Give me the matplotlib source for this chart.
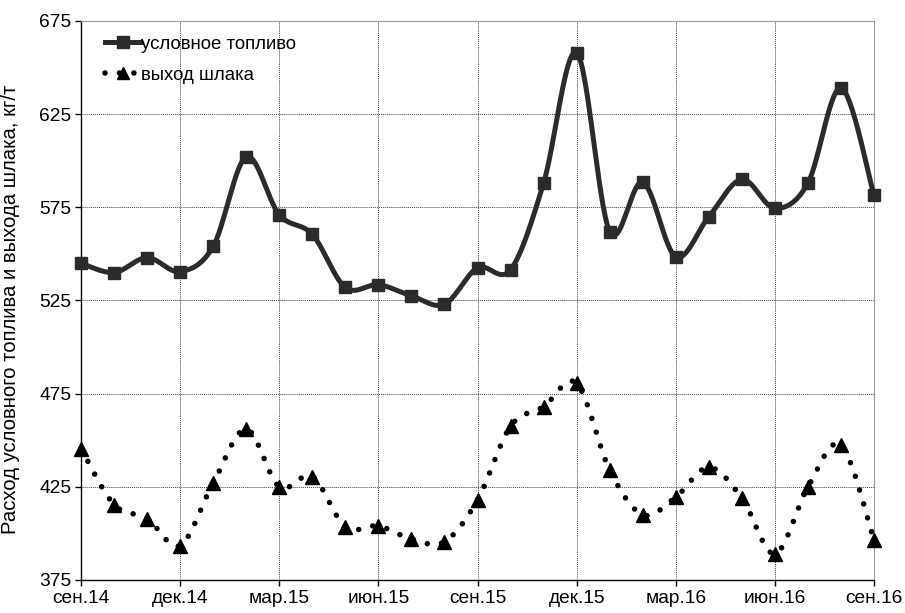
import numpy as np
import matplotlib
matplotlib.use("Agg")
import matplotlib.pyplot as plt

plt.rcParams['font.family'] = ['Liberation Sans', 'DejaVu Sans']

months = ["сен.14", "окт.14", "ноя.14", "дек.14", "янв.15", "фев.15", "мар.15", "апр.15",
          "май.15", "июн.15", "июл.15", "авг.15", "сен.15", "окт.15", "ноя.15", "дек.15",
          "янв.16", "фев.16", "мар.16", "апр.16", "май.16", "июн.16", "июл.16", "авг.16", "сен.16"]
fuel = [545, 540, 548, 540.5, 554, 602, 571, 560.5, 532, 533.5, 527.5, 523,
        542.5, 541.5, 588, 658, 562, 588.5, 548.5, 570, 590, 574.5, 588, 639, 581.5]
slag = [445.5, 415.5, 408, 393.5, 427, 456, 425, 430.5, 403.5, 404, 397, 395.5,
        418, 457.5, 468, 480.5, 434, 410, 419.5, 435.5, 419, 389, 425, 447.5, 396.5]
tick_labels = ["сен.14", "дек.14", "мар.15", "июн.15", "сен.15", "дек.15", "мар.16", "июн.16", "сен.16"]
y_ticks = [375, 425, 475, 525, 575, 625, 675]


def smooth(y, n=30):
    y = np.asarray(y, float)
    x = np.arange(len(y), dtype=float)
    P = np.column_stack([x, y])
    out = []
    for i in range(len(P) - 1):
        p0 = P[i - 1] if i > 0 else P[i]
        p1 = P[i]
        p2 = P[i + 1]
        p3 = P[i + 2] if i + 2 < len(P) else P[i + 1]
        c1 = p1 + (p2 - p0) / 6.0
        c2 = p2 - (p3 - p1) / 6.0
        t = np.linspace(0, 1, n, endpoint=(i == len(P) - 2))[:, None]
        b = ((1 - t) ** 3) * p1 + 3 * ((1 - t) ** 2) * t * c1 + 3 * (1 - t) * t ** 2 * c2 + t ** 3 * p2
        out.append(b)
    out = np.vstack(out)
    return out[:, 0], out[:, 1]


fig = plt.figure(figsize=(9.05, 6.13), dpi=100)
ax = fig.add_axes([81 / 905, 1 - 580 / 613, (874 - 81) / 905, (580 - 21) / 613])

col = '#2b2b2b'
dot_ls = (0, (0.001, 2.6))
x = np.arange(len(months))

sx, sy = smooth(fuel)
ax.plot(sx, sy, color=col, lw=3.6, solid_capstyle='round', zorder=3, clip_on=False)
ax.plot(x, fuel, ls='none', marker='s', ms=8, color=col, zorder=4, clip_on=False)

tx, ty = smooth(slag)
ax.plot(tx, ty, color='black', lw=4.0, ls=dot_ls, dash_capstyle='round', zorder=3, clip_on=False)
ax.plot(x, slag, ls='none', marker='^', ms=9.5, color='black', zorder=4, clip_on=False)

# legend proxies
h1, = ax.plot([], [], color=col, lw=3.6, marker='s', ms=8)
h2, = ax.plot([], [], color='black', lw=4.0, ls=dot_ls, dash_capstyle='round', marker='^', ms=8)
leg = ax.legend([h1, h2], ["условное топливо", "выход шлака"], loc='upper left',
                bbox_to_anchor=(0.014, 0.997), frameon=False, fontsize=13.4,
                handlelength=1.9, handletextpad=0.05, labelspacing=0.75, numpoints=1,
                borderaxespad=0.3)

ax.set_xlim(0, 24)
ax.set_ylim(375, 675)
ax.set_xticks(np.arange(0, 25, 3))
ax.set_xticklabels(tick_labels, fontsize=13.8)
ax.set_yticks(y_ticks)
ax.set_yticklabels([str(v) for v in y_ticks], fontsize=13.8)
ax.set_ylabel("Расход условного топлива и выхода шлака, кг/т", fontsize=14.6)
ax.yaxis.set_label_coords(-0.077, 0.485)

ax.grid(True, color='#444444', ls=(0, (1, 1)), lw=0.7)
ax.set_axisbelow(True)
for s in ['top', 'right']:
    ax.spines[s].set_color('#999999')
    ax.spines[s].set_linewidth(0.8)
for s in ['left', 'bottom']:
    ax.spines[s].set_color('black')
    ax.spines[s].set_linewidth(1.0)
ax.tick_params(axis='both', direction='out', length=4, width=1, colors='black', pad=3)

fig.savefig("out.png", dpi=100)
